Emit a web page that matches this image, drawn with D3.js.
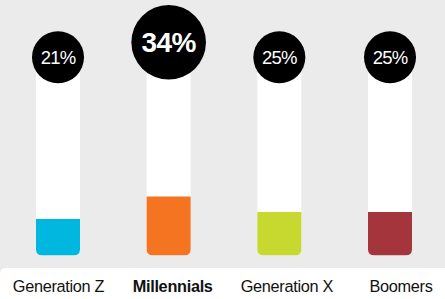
<!DOCTYPE html>
<html lang="en">
<head>
    <meta charset="UTF-8">
    <script src="https://cdn.jsdelivr.net/npm/d3@7"></script>
    <title>Generations</title>
    <style>
        html,
        body {
            margin: 0px;
            padding: 0px;
            background-color: #ffffff;
            font-family: "Liberation Sans", Arial, sans-serif;
        }
        svg { display: block; }
    </style>
</head>
<body>
    <div id='chart'></div>
    <script>

        const categories = ['Generation Z', 'Millennials', 'Generation X', 'Boomers'];
        const values = [21, 34, 25, 25];
        const colors = ['#00b7e0', '#f47422', '#c7d92e', '#a5353c'];

        let width = 445;
        let height = 299;

        let svg = d3.select('#chart').append('svg').attr('width', width).attr('height', height);

        // grey panel with white strip for labels
        svg.append('rect').attr('width', width).attr('height', height).attr('fill', '#ffffff');
        svg.append('rect').attr('width', width).attr('height', 268).attr('fill', '#ebebeb');
        svg.append('path')
            .attr('d', 'M0,268 L0,262 Q0,268 6,268 Z')
            .attr('fill', '#ebebeb');
        svg.append('rect').attr('x', 0).attr('y', 268).attr('width', width).attr('height', 31)
            .attr('rx', 0).attr('fill', '#ffffff');
        svg.append('path')
            .attr('d', 'M0,268 L6,268 Q0,268 0,274 Z')
            .attr('fill', '#ebebeb');

        let x = d3.scalePoint().domain(categories).range([58, 390]);
        let xLabel = d3.scalePoint().domain(categories).range([58.5, 401]);
        let y = d3.scaleLinear().domain([0, 100]).range([255.3, 82]);

        const barW = 44;
        const rad = 6;
        const maxV = d3.max(values);

        const data = categories.map((c, i) => ({
            cat: c, value: values[i], color: colors[i], top: values[i] === maxV
        }));

        function roundedBottom(x0, y0, w, y1, r) {
            return `M${x0},${y0} L${x0 + w},${y0} L${x0 + w},${y1 - r} Q${x0 + w},${y1} ${x0 + w - r},${y1}` +
                ` L${x0 + r},${y1} Q${x0},${y1} ${x0},${y1 - r} Z`;
        }

        let g = svg.selectAll('g.bar')
            .data(data)
            .join('g')
            .attr('class', 'bar');

        const cy = d => d.top ? 42.3 : 57.3;
        const cr = d => d.top ? 37.3 : 26;

        // white tube
        g.append('path')
            .attr('d', d => roundedBottom(x(d.cat) - barW / 2, cy(d), barW, y(0), rad))
            .attr('fill', '#ffffff');

        // coloured fill
        g.append('path')
            .attr('d', d => roundedBottom(x(d.cat) - barW / 2, y(d.value), barW, y(0), rad))
            .attr('fill', d => d.color);

        g.append('circle')
            .attr('cx', d => x(d.cat))
            .attr('cy', cy)
            .attr('r', cr)
            .attr('fill', '#000000');

        g.append('text')
            .attr('x', d => x(d.cat))
            .attr('y', d => d.top ? cy(d) + 10 : cy(d) + 6.7)
            .attr('text-anchor', 'middle')
            .attr('fill', '#ffffff')
            .attr('font-size', d => d.top ? '28px' : '18.5px')
            .attr('font-weight', d => d.top ? 'bold' : 'normal')
            .attr('letter-spacing', d => d.top ? '-0.5px' : '-0.8px')
            .text(d => d.value + '%');

        g.append('text')
            .attr('x', d => xLabel(d.cat))
            .attr('y', 292.3)
            .attr('text-anchor', 'middle')
            .attr('fill', '#111111')
            .attr('font-size', '16.3px')
            .attr('font-weight', d => d.top ? 'bold' : 'normal')
            .attr('letter-spacing', '-0.3px')
            .text(d => d.cat);

    </script>
</body>
</html>
